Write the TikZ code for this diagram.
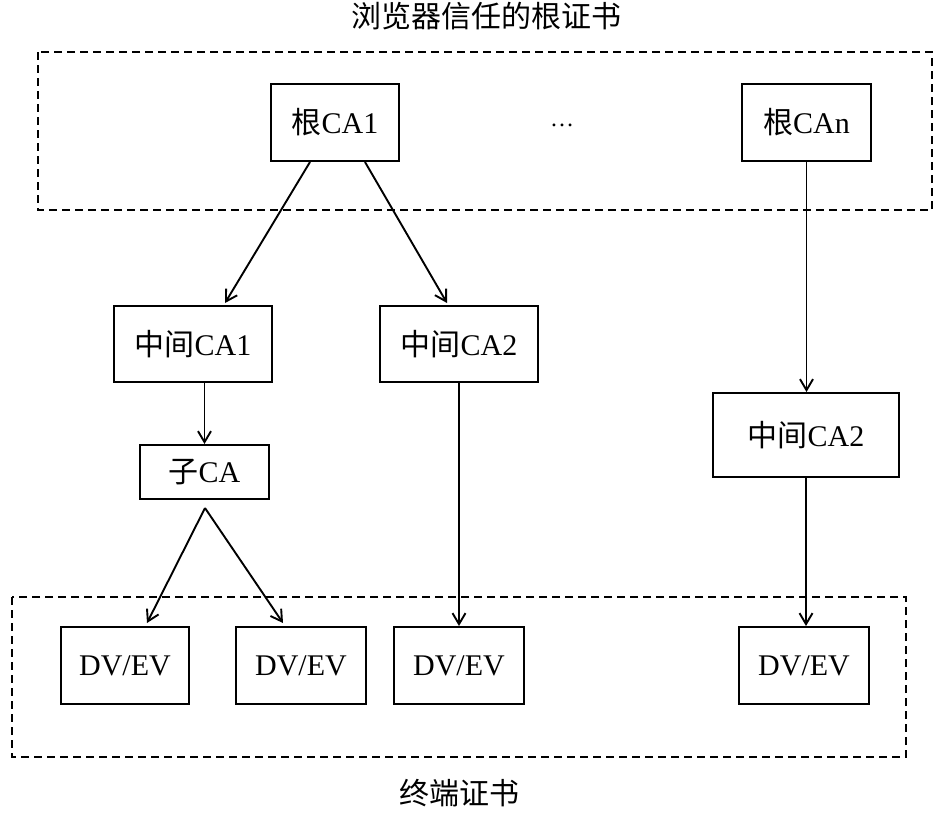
\documentclass[tikz,border=0pt]{standalone}
\usepackage{fontspec}
\setmainfont{Liberation Serif}
\newfontfamily\cjk{Noto Sans CJK SC}
\usetikzlibrary{arrows.meta,calc}
\tikzset{
  box/.style={draw, line width=2pt, inner sep=0pt, font=\fontsize{30}{36}\selectfont},
  arr/.style={line width=1.9pt, -{Straight Barb[length=11pt,width=13pt,line width=1.9pt]}},
  grp/.style={draw, line width=1.9pt, dash pattern=on 8pt off 5pt},
  lbl/.style={inner sep=0pt, font=\fontsize{30}{36}\selectfont}
}
\begin{document}
\begin{tikzpicture}[x=1pt,y=-1pt]
\useasboundingbox (0,0) rectangle (945,814);
% group frames
\draw[grp] (38,52) rectangle (932,210);
\draw[grp] (12,597) rectangle (906,757);
% labels
\node[lbl] (title) at (486,16) {\cjk 浏览器信任的根证书};
\node[lbl] (foot) at (459,793) {\cjk 终端证书};
\node[inner sep=0pt, font=\fontsize{24}{28}\selectfont, anchor=base] (dots) at (562,126) {…};
% boxes
\node[box, minimum width=128pt, minimum height=77pt] (root1) at (335,122.5) {{\cjk 根}CA1};
\node[box, minimum width=129pt, minimum height=77pt] (rootn) at (806.5,122.5) {{\cjk 根}CAn};
\node[box, minimum width=158pt, minimum height=76pt] (mid1) at (193,344) {{\cjk 中间}CA1};
\node[box, minimum width=158pt, minimum height=76pt] (mid2) at (459,344) {{\cjk 中间}CA2};
\node[box, minimum width=186pt, minimum height=84pt] (mid2r) at (806,435) {{\cjk 中间}CA2};
\node[box, minimum width=129pt, minimum height=54pt] (sub) at (204.5,472) {{\cjk 子}CA};
\node[box, minimum width=128pt, minimum height=77pt] (dv1) at (125,665.5) {DV/EV};
\node[box, minimum width=130pt, minimum height=77pt] (dv2) at (301,665.5) {DV/EV};
\node[box, minimum width=130pt, minimum height=77pt] (dv3) at (459,665.5) {DV/EV};
\node[box, minimum width=130pt, minimum height=77pt] (dv4) at (804,665.5) {DV/EV};
% connectors
\draw[arr] ($(root1.south)+(-25,0)$) -- ($(mid1.north)+(32,-2)$);
\draw[arr] ($(root1.south)+(30,0)$) -- ($(mid2.north)+(-12,-2)$);
\draw[arr] (sub.north |- mid1.south) -- (sub.north);
\coordinate (fork) at ($(sub.south)+(0.5,8)$);
\draw[arr] (fork) -- ($(dv1.north)+(22,-3)$);
\draw[arr] (fork) -- ($(dv2.north)+(-18,-3)$);
\draw[arr] (mid2.south) -- (mid2.south |- dv3.north);
\draw[arr] (rootn.south) -- (rootn.south |- mid2r.north);
\draw[arr] (mid2r.south) -- (mid2r.south |- dv4.north);
\end{tikzpicture}
\end{document}
